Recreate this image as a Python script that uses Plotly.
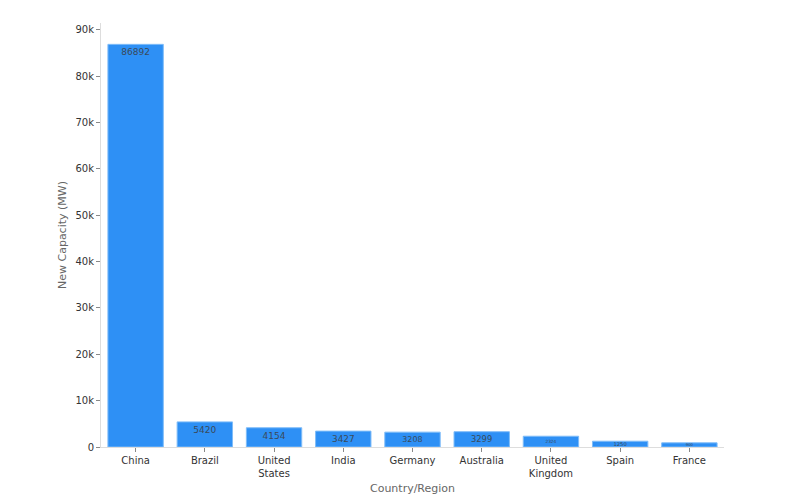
import plotly.graph_objects as go

countries = ["China", "Brazil", "United<br>States", "India", "Germany",
             "Australia", "United<br>Kingdom", "Spain", "France"]
capacity = [86892, 5420, 4154, 3427, 3208, 3299, 2324, 1250, 900]

tick_vals = [0, 10000, 20000, 30000, 40000, 50000, 60000, 70000, 80000, 90000]
tick_text = ["0", "10k", "20k", "30k", "40k", "50k", "60k", "70k", "80k", "90k"]

fig = go.Figure(data=[go.Bar(
    x=countries, y=capacity,
    text=[str(v) for v in capacity],
    textposition="inside", insidetextanchor="end",
    textfont=dict(color="#3a4a5a", size=9),
    marker=dict(color="#2e90f5", line=dict(color="#7fbcf8", width=1)),
)])

fig.update_layout(
    width=800, height=500,
    margin=dict(l=93, r=84, t=15, b=61),
    paper_bgcolor="white", plot_bgcolor="white",
    font=dict(family="DejaVu Sans", size=10, color="#333"),
    bargap=0.2, showlegend=False,
)
fig.update_xaxes(
    title=dict(text="Country/Region", font=dict(size=11, color="#666"), standoff=6),
    showline=True, linecolor="#ddd", ticks="outside", tickcolor="#888", ticklen=4,
    showgrid=False,
)
fig.update_yaxes(
    title=dict(text="New Capacity (MW)", font=dict(size=11, color="#666"), standoff=6),
    range=[0, 91500], tickvals=tick_vals, ticktext=tick_text,
    showline=True, linecolor="#ddd", ticks="outside", tickcolor="#888", ticklen=4,
    showgrid=False, zeroline=False,
)

fig.write_html("out.html")
